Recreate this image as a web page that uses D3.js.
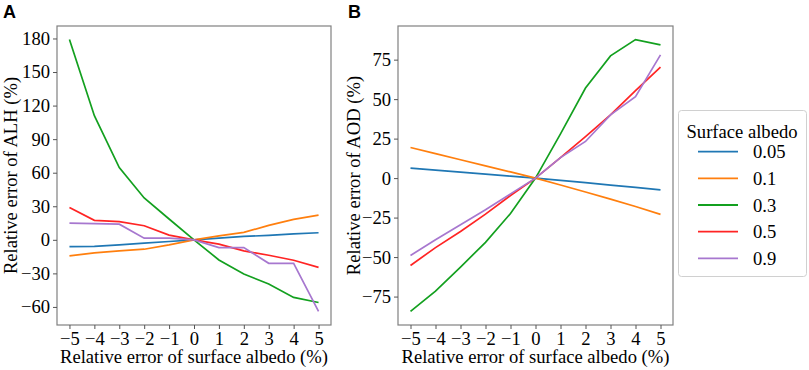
<!DOCTYPE html>
<html>
<head>
<meta charset="utf-8">
<script src="https://cdn.jsdelivr.net/npm/d3@7"></script>
<style>
  body { margin: 0; background: #fff; }
</style>
</head>
<body>
<div class="chart"></div>
<script>
var width = 809, height = 370;
var serif = "'Liberation Serif', 'Times New Roman', serif";
var fontSize = "18.6px";

// x values: relative error of surface albedo (%)
var errors = [-5, -4, -3, -2, -1, 0, 1, 2, 3, 4, 5];
var albedos = ["0.05", "0.1", "0.3", "0.5", "0.9"];
var colors = ["#1f77b4", "#ff7f0e", "#13a01f", "#ff2424", "#a777cf"];

// panel A: relative error of ALH (%)
var alh005 = [-6, -5.8, -4.5, -3, -1.5, 0, 1.5, 3, 4, 5.4, 6.3];
var alh01  = [-14.4, -11.7, -9.9, -8.4, -4.5, 0, 3.6, 6.6, 12.9, 18.3, 22];
var alh03  = [179, 111, 64.6, 37.4, 18.6, 0, -18, -30.5, -39.5, -51.5, -56];
var alh05  = [29, 17.4, 16.2, 12.6, 4.2, 0, -3.9, -9.9, -13.8, -18.3, -24.6];
var alh09  = [15, 14.5, 14, 1.5, 1.5, 0, -6.9, -6.9, -21, -21, -64];

// panel B: relative error of AOD (%)
var aod005 = [6.3, 5, 3.8, 2.5, 1.2, 0, -1.4, -2.9, -4.4, -5.9, -7.4];
var aod01  = [19.4, 15.5, 11.6, 7.7, 3.9, 0, -4.4, -8.8, -13.3, -18, -23];
var aod03  = [-84.4, -71.5, -56.3, -40.7, -22.4, 0, 28, 57, 77.4, 87.7, 84.4];
var aod05  = [-55.3, -44, -33.8, -22.8, -11, 0, 13, 26.3, 40, 55.4, 70.2];
var aod09  = [-49, -39, -29.5, -20, -10, 0, 13, 23.2, 40, 51.6, 78];

var xTicks = [-5, -4, -3, -2, -1, 0, 1, 2, 3, 4, 5];
var yTicksA = [-60, -30, 0, 30, 60, 90, 120, 150, 180];
var yTicksB = [-75, -50, -25, 0, 25, 50, 75];

var svg = d3.select(".chart").append("svg")
    .attr("width", width)
    .attr("height", height);

function padded(ext) {
    var p = (ext[1] - ext[0]) * 0.05;
    return [ext[0] - p, ext[1] + p];
}

function panel(opt) {
    var x = d3.scaleLinear().domain(padded(d3.extent(errors))).range([opt.left, opt.right]);
    var all = d3.merge(opt.series);
    var y = d3.scaleLinear().domain(padded(d3.extent(all))).range([opt.bottom, opt.top]);

    var g = svg.append("g");

    var line = d3.line()
        .x(function(d, i) { return x(errors[i]); })
        .y(function(d) { return y(d); });

    opt.series.forEach(function(s, k) {
        g.append("path")
            .datum(s)
            .attr("d", line)
            .attr("fill", "none")
            .attr("stroke", colors[k])
            .attr("stroke-width", 1.7);
    });

    // frame
    g.append("rect")
        .attr("x", opt.left).attr("y", opt.top)
        .attr("width", opt.right - opt.left)
        .attr("height", opt.bottom - opt.top)
        .attr("fill", "none")
        .attr("stroke", "#808080")
        .attr("stroke-width", 1.2);

    var xAxis = g.append("g")
        .attr("transform", "translate(0," + opt.bottom + ")")
        .call(d3.axisBottom(x).tickValues(xTicks).tickSize(4).tickPadding(3));
    var yAxis = g.append("g")
        .attr("transform", "translate(" + opt.left + ",0)")
        .call(d3.axisLeft(y).tickValues(opt.yTicks).tickSize(4).tickPadding(3));

    [xAxis, yAxis].forEach(function(a) {
        a.attr("font-family", serif).attr("font-size", fontSize);
        a.select(".domain").remove();
        a.selectAll(".tick line").attr("stroke", "#555");
        a.selectAll(".tick text").attr("fill", "#000");
    });

    g.append("text")
        .attr("x", (opt.left + opt.right) / 2)
        .attr("y", 363)
        .attr("text-anchor", "middle")
        .attr("font-family", serif)
        .attr("font-size", fontSize)
        .text("Relative error of surface albedo (%)");

    g.append("text")
        .attr("transform", "translate(" + opt.ylabX + "," + ((opt.top + opt.bottom) / 2) + ") rotate(-90)")
        .attr("text-anchor", "middle")
        .attr("font-family", serif)
        .attr("font-size", fontSize)
        .text(opt.ylabel);

    g.append("text")
        .attr("x", opt.tagX)
        .attr("y", 18)
        .attr("font-family", "'Liberation Sans', Arial, sans-serif")
        .attr("font-weight", "bold")
        .attr("font-size", 18)
        .text(opt.tag);
}

panel({
    left: 57, right: 331, top: 26, bottom: 325,
    series: [alh005, alh01, alh03, alh05, alh09],
    yTicks: yTicksA, ylabel: "Relative error of ALH (%)", ylabX: 17,
    tag: "A", tagX: 3
});

panel({
    left: 398, right: 673, top: 26, bottom: 325,
    series: [aod005, aod01, aod03, aod05, aod09],
    yTicks: yTicksB, ylabel: "Relative error of AOD (%)", ylabX: 360,
    tag: "B", tagX: 348
});

// legend
var legend = svg.append("g");
legend.append("rect")
    .attr("x", 678.5).attr("y", 110.5)
    .attr("width", 128).attr("height", 166)
    .attr("rx", 3)
    .attr("fill", "#fff")
    .attr("stroke", "#d0d0d0");

legend.append("text")
    .attr("x", 742).attr("y", 138)
    .attr("text-anchor", "middle")
    .attr("font-family", serif)
    .attr("font-size", fontSize)
    .text("Surface albedo");

var items = legend.selectAll(".legend-item")
    .data(albedos)
    .enter().append("g")
    .attr("class", "legend-item")
    .attr("transform", function(d, i) { return "translate(0," + (151.7 + i * 26.65) + ")"; });

items.append("line")
    .attr("x1", 698).attr("x2", 738)
    .attr("stroke", function(d, i) { return colors[i]; })
    .attr("stroke-width", 1.8);

items.append("text")
    .attr("x", 753)
    .attr("y", 6.5)
    .attr("font-family", serif)
    .attr("font-size", fontSize)
    .text(function(d) { return d; });
</script>
</body>
</html>
